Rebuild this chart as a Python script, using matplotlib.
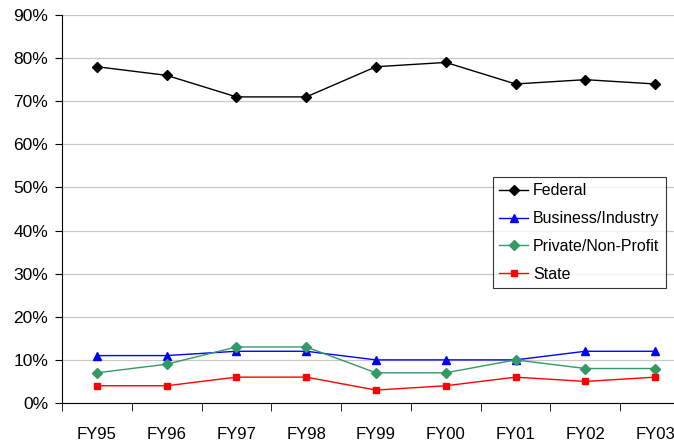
import matplotlib
matplotlib.use("Agg")
import matplotlib.pyplot as plt
from matplotlib.ticker import FixedLocator, PercentFormatter

plt.rcParams['font.family'] = ['Liberation Sans', 'DejaVu Sans']

years = ["FY95", "FY96", "FY97", "FY98", "FY99", "FY00", "FY01", "FY02", "FY03"]
federal = [78, 76, 71, 71, 78, 79, 74, 75, 74]
business = [11, 11, 12, 12, 10, 10, 10, 12, 12]
private = [7, 9, 13, 13, 7, 7, 10, 8, 8]
state = [4, 4, 6, 6, 3, 4, 6, 5, 6]

W, H = 674, 443
fig = plt.figure(figsize=(W/100, H/100), dpi=100)
left, right, bottom, top = 62, 690, 403, 15
ax = fig.add_axes([left/W, 1-bottom/H, (right-left)/W, (bottom-top)/H])

x = list(range(len(years)))
ax.plot(x, federal, color='black', marker='D', markersize=5, lw=1, label='Federal')
ax.plot(x, business, color='#0000FF', marker='^', markersize=6, lw=1, label='Business/Industry')
ax.plot(x, private, color='#339966', marker='D', markersize=5, lw=1, label='Private/Non-Profit')
ax.plot(x, state, color='#FF0000', marker='s', markersize=5, lw=1, label='State')

ax.set_xlim(-0.5, len(years)-0.5)
ax.set_ylim(0, 90)
ax.set_yticks(range(0, 91, 10))
ax.yaxis.set_major_formatter(PercentFormatter(decimals=0))
ax.set_xticks(x)
ax.set_xticklabels(years)
ax.xaxis.set_minor_locator(FixedLocator([i-0.5 for i in range(len(years)+1)]))
ax.tick_params(axis='x', which='major', length=0, pad=17, labelsize=12)
ax.tick_params(axis='x', which='minor', length=6, direction='out')
ax.tick_params(axis='y', length=5, direction='out', labelsize=12.5, pad=5)
ax.grid(axis='y', color='#c8c8c8', lw=0.9)
ax.set_axisbelow(True)
for s in ['top', 'right']:
    ax.spines[s].set_visible(False)

leg = ax.legend(loc='upper left', bbox_to_anchor=((493-left)/(right-left), (bottom-177)/(bottom-top)),
                frameon=True, fancybox=False, edgecolor='black', fontsize=11.5,
                handlelength=1.8, borderaxespad=0, labelspacing=0.8, borderpad=0.4,
                handletextpad=0.3)
leg.get_frame().set_linewidth(0.8)

fig.savefig("out.png", dpi=100)
